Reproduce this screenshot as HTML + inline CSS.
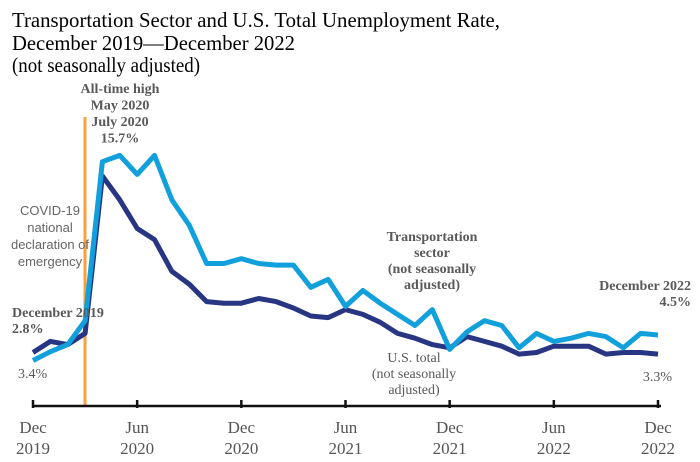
<!DOCTYPE html>
<html><head><meta charset="utf-8"><style>
body{margin:0;background:#fff;}
svg{display:block;font-family:"Liberation Serif",serif;}
.b{font-weight:bold;fill:#595959;font-size:14px;}
.g{fill:#595959;font-size:14px;}
.s{font-family:"Liberation Sans",sans-serif;fill:#666;font-size:13px;}
.t{font-size:17px;fill:#555;}
</style></head><body>
<svg id="c" width="700" height="462">
<text x="12" y="27" font-size="21" textLength="488" lengthAdjust="spacingAndGlyphs">Transportation Sector and U.S. Total Unemployment Rate,</text>
<text x="12" y="50" font-size="21" textLength="283" lengthAdjust="spacingAndGlyphs">December 2019—December 2022</text>
<text x="12" y="72" font-size="21" textLength="188" lengthAdjust="spacingAndGlyphs">(not seasonally adjusted)</text>
<line x1="85" y1="117" x2="85" y2="406" stroke="#f7a13d" stroke-width="3"/>
<g id="lines"></g>
<line x1="33" y1="406" x2="661" y2="406" stroke="#111" stroke-width="2.5"/>
<g id="ticks"></g>
<text text-anchor="middle" class="b"><tspan x="120" y="93">All-time high</tspan><tspan x="120" dy="16.5">May 2020</tspan><tspan x="120" dy="16.5">July 2020</tspan><tspan x="120" dy="16.5">15.7%</tspan></text>
<text class="s" text-anchor="middle"><tspan x="50" y="215">COVID-19</tspan><tspan x="50" dy="17">national</tspan><tspan x="50" dy="17">declaration of</tspan><tspan x="50" dy="17">emergency</tspan></text>
<text class="b"><tspan x="12" y="317">December 2019</tspan><tspan x="12" dy="16">2.8%</tspan></text>
<text x="18" y="378" class="g">3.4%</text>
<text class="b" text-anchor="middle"><tspan x="432" y="241">Transportation</tspan><tspan x="432" dy="16">sector</tspan><tspan x="432" dy="16">(not seasonally</tspan><tspan x="432" dy="16">adjusted)</tspan></text>
<text class="g" text-anchor="middle"><tspan x="414" y="362">U.S. total</tspan><tspan x="414" dy="16">(not seasonally</tspan><tspan x="414" dy="16">adjusted)</tspan></text>
<text class="b" text-anchor="end"><tspan x="691" y="290">December 2022</tspan><tspan x="691" dy="16">4.5%</tspan></text>
<text x="672" y="381" text-anchor="end" class="g">3.3%</text>
</svg>
<script>
const months = ["Dec 2019","Jan","Feb","Mar","Apr","May","Jun 2020","Jul","Aug","Sep","Oct","Nov","Dec 2020","Jan","Feb","Mar","Apr","May","Jun 2021","Jul","Aug","Sep","Oct","Nov","Dec 2021","Jan","Feb","Mar","Apr","May","Jun 2022","Jul","Aug","Sep","Oct","Nov","Dec 2022"];
const transport = [2.8,3.35,3.8,5.3,15.3,15.7,14.5,15.7,12.9,11.3,8.9,8.9,9.2,8.9,8.8,8.8,7.4,7.9,6.2,7.2,6.4,5.7,5.0,6.0,3.5,4.6,5.3,5.0,3.6,4.5,4.0,4.2,4.5,4.3,3.6,4.5,4.4];
const usTotal = [3.3,4.0,3.8,4.5,14.4,12.9,11.1,10.4,8.4,7.6,6.5,6.4,6.4,6.7,6.5,6.1,5.6,5.5,6.0,5.7,5.2,4.5,4.2,3.8,3.6,4.3,4.0,3.7,3.2,3.3,3.7,3.7,3.7,3.2,3.3,3.3,3.2];
const tickIdx = [0,6,12,18,24,30,36];
const tickTop = ["Dec","Jun","Dec","Jun","Dec","Jun","Dec"];
const tickBot = ["2019","2020","2020","2021","2021","2022","2022"];
const NS="http://www.w3.org/2000/svg";
const x = i => 33 + i*(625/36);
const y = v => 405 - v*15.9;
const lines=document.getElementById('lines');
function draw(arr,color,name){
  const p=document.createElementNS(NS,'polyline');
  p.setAttribute('points',arr.map((v,i)=>x(i).toFixed(1)+','+y(v).toFixed(1)).join(' '));
  p.setAttribute('fill','none');p.setAttribute('stroke',color);p.setAttribute('stroke-width','5');p.setAttribute('stroke-linejoin','round');
  
  
  lines.appendChild(p);
}
draw(usTotal,'#283583','us-total-line');
draw(transport,'#12a0dc','transportation-line');
const tg=document.getElementById('ticks');
tickIdx.forEach((ti,k)=>{
  const l=document.createElementNS(NS,'line');
  l.setAttribute('x1',x(ti));l.setAttribute('x2',x(ti));l.setAttribute('y1',400);l.setAttribute('y2',408);
  l.setAttribute('stroke','#111');l.setAttribute('stroke-width','2.5');
  
  
  tg.appendChild(l);
  const t=document.createElementNS(NS,'text');
  t.setAttribute('class','t');t.setAttribute('text-anchor','middle');
  t.innerHTML='<tspan x="'+x(ti)+'" y="433">'+tickTop[k]+'</tspan><tspan x="'+x(ti)+'" y="454">'+tickBot[k]+'</tspan>';
  
  
  tg.appendChild(t);
});
</script>
</body></html>
